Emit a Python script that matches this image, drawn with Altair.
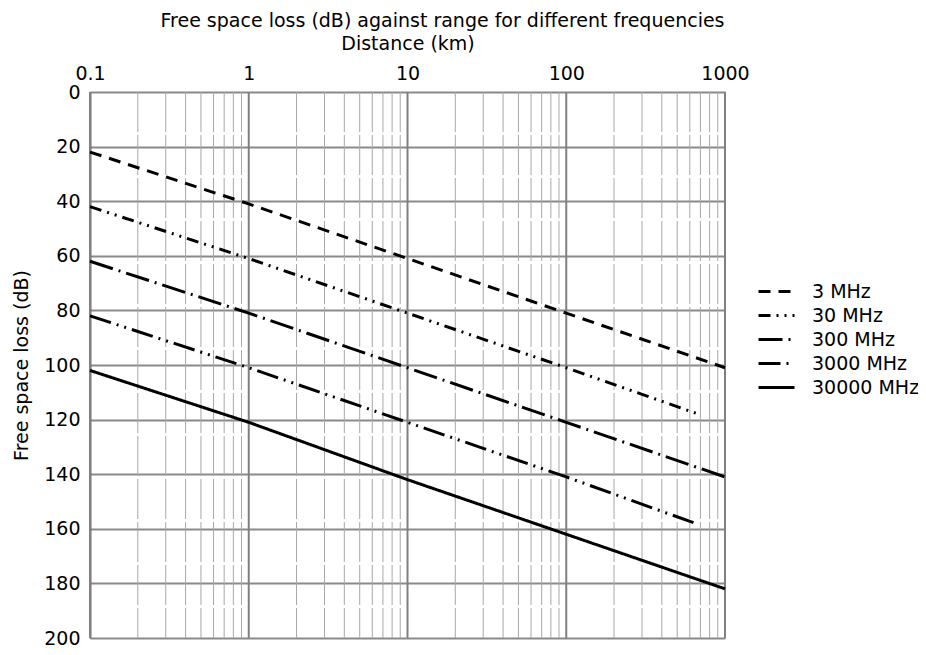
import altair as alt
import pandas as pd

FONT = "DejaVu Sans"
FS = 19

freqs = ["3 MHz", "30 MHz", "300 MHz", "3000 MHz", "30000 MHz"]

dist_3 = [0.1, 1, 10, 100, 1000]
loss_3 = [22, 41, 61, 81, 101]
dist_30 = [0.1, 1, 10, 100, 680]
loss_30 = [42, 61, 81, 101, 118]
dist_300 = [0.1, 1, 10, 100, 1000]
loss_300 = [62, 81, 101, 121, 141]
dist_3000 = [0.1, 1, 10, 100, 650]
loss_3000 = [82, 101, 121, 141, 158]
dist_30000 = [0.1, 1, 10, 100, 1000]
loss_30000 = [102, 121, 142, 162, 182]

x_ticks = [0.1, 1, 10, 100, 1000]
y_ticks = [0, 20, 40, 60, 80, 100, 120, 140, 160, 180, 200]
minor_grid = [m * d for d in [0.1, 1, 10, 100] for m in [2, 3, 4, 5, 6, 7, 8, 9]]

dashes = [[12, 8], [12, 6, 2, 6, 2, 6], [24, 6, 2, 6], [22, 6, 2, 6, 2, 6], [1, 0]]

rows = []
for name, ds, ls in zip(
    freqs,
    [dist_3, dist_30, dist_300, dist_3000, dist_30000],
    [loss_3, loss_30, loss_300, loss_3000, loss_30000],
):
    for d, l in zip(ds, ls):
        rows.append({"freq": name, "dist": d, "loss": l})
df = pd.DataFrame(rows)

xscale = alt.Scale(type="log", domain=[0.1, 1000], nice=False)
yscale = alt.Scale(domain=[0, 200], reverse=True, nice=False)

xaxis = alt.Axis(
    orient="top",
    values=x_ticks,
    format="~g",
    title="Distance (km)",
    grid=False,
    ticks=False,
    domain=False,
    labelFontSize=FS,
    labelPadding=9,
    titleFontSize=FS,
    titleFontWeight="normal",
    titlePadding=11,
    labelFont=FONT,
    titleFont=FONT,
    labelColor="black",
    titleColor="black",
    labelFlush=False,
)

yaxis = alt.Axis(
    values=y_ticks,
    title="Free space loss (dB)",
    grid=True,
    gridColor="#8a8a8a",
    gridWidth=2,
    gridOpacity=1,
    ticks=False,
    domain=True,
    domainColor="#707070",
    domainWidth=2,
    labelFontSize=FS,
    labelPadding=10,
    titleFontSize=FS,
    titleFontWeight="normal",
    titlePadding=12,
    labelFont=FONT,
    titleFont=FONT,
    labelColor="black",
    titleColor="black",
)

minor = (
    alt.Chart(pd.DataFrame({"dist": minor_grid}))
    .mark_rule(color="#a8a8a8", strokeWidth=1, strokeDash=[40, 3])
    .encode(x=alt.X("dist:Q", scale=xscale, axis=xaxis))
)

major = (
    alt.Chart(pd.DataFrame({"dist": x_ticks}))
    .mark_rule(color="#808080", strokeWidth=2)
    .encode(x=alt.X("dist:Q", scale=xscale, axis=xaxis))
)

lines = (
    alt.Chart(df)
    .mark_line(color="black", strokeWidth=3)
    .encode(
        x=alt.X("dist:Q", scale=xscale, axis=xaxis),
        y=alt.Y("loss:Q", scale=yscale, axis=yaxis),
        strokeDash=alt.StrokeDash(
            "freq:N",
            scale=alt.Scale(domain=freqs, range=dashes),
            sort=freqs,
            legend=alt.Legend(
                title=None,
                orient="none",
                legendX=667,
                legendY=190,
                symbolType="stroke",
                symbolSize=1296,
                symbolStrokeWidth=3,
                symbolStrokeColor="black",
                labelFontSize=FS,
                labelFont=FONT,
                labelColor="black",
                labelOffset=16,
                clipHeight=19,
                rowPadding=4,
                padding=0,
            ),
        ),
        detail="freq:N",
    )
)

chart = (
    alt.layer(minor, major, lines)
    .properties(
        width=635,
        height=546,
        title=alt.TitleParams(
            "Free space loss (dB) against range for different frequencies",
            font=FONT,
            fontSize=FS,
            fontWeight="normal",
            color="black",
            anchor="middle",
            dx=35,
            offset=3,
        ),
        autosize=alt.AutoSizeParams(type="none"),
        padding={"left": 82, "top": 84, "right": 193, "bottom": 9},
    )
    .configure_view(stroke="#808080", strokeWidth=2)
    .configure(background="white")
)

chart.save("out.html", embed_options={"renderer": "svg", "actions": False})
